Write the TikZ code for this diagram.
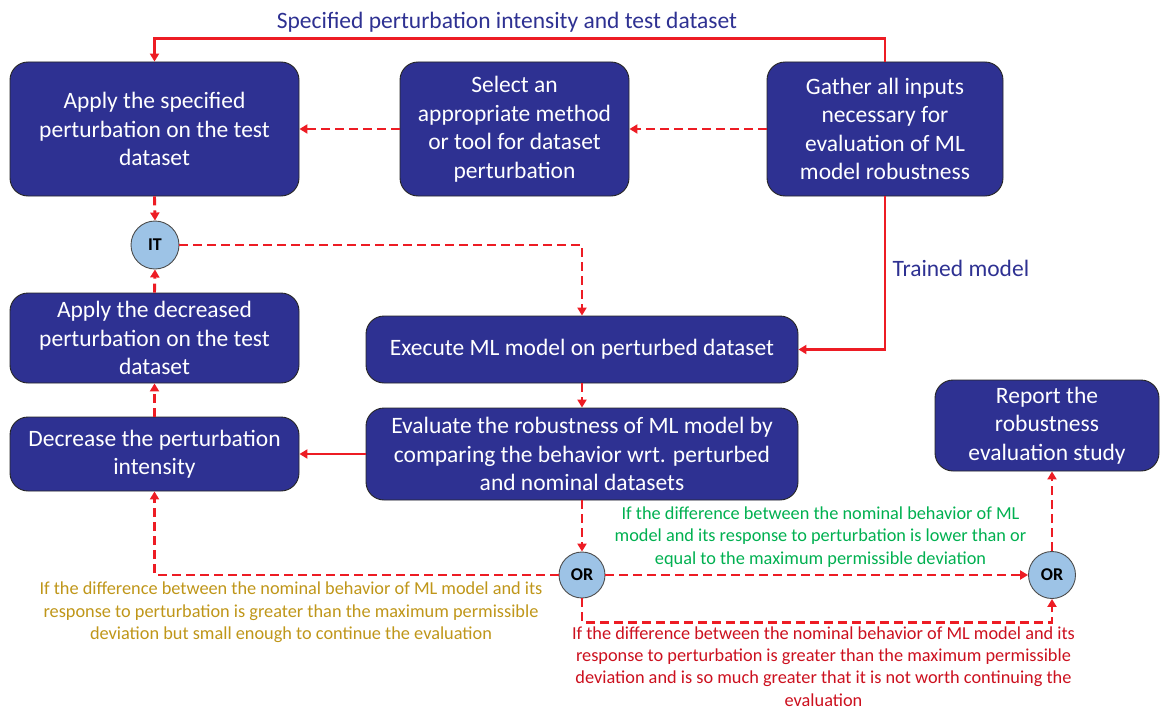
\documentclass[tikz,border=0pt]{standalone}
\usepackage{fontspec}
\setmainfont{Carlito}
\usetikzlibrary{arrows.meta}
\definecolor{boxblue}{RGB}{46,49,146}
\definecolor{circblue}{RGB}{157,195,230}
\definecolor{linered}{RGB}{237,28,36}
\definecolor{okgreen}{RGB}{0,176,80}
\definecolor{gold}{RGB}{191,150,25}
\definecolor{badred}{RGB}{204,16,30}
\tikzset{
  stepbox/.style={draw=black!85, line width=0.9pt, fill=boxblue, rounded corners=18pt,
    text=white, align=center, inner sep=2pt,
    font=\fontsize{23.5}{28.5}\selectfont},
  gate/.style={circle, draw=black!70, line width=0.9pt, fill=circblue, inner sep=0pt,
    font=\fontsize{18}{20}\selectfont\bfseries},
  solidarr/.style={draw=linered, line width=2.9pt, -{Triangle[length=8pt,width=9pt]}},
  dasharr/.style={solidarr, dash pattern=on 9pt off 5pt},
  note/.style={align=center, font=\fontsize{18.3}{22.3}\selectfont},
  flowlabel/.style={text=boxblue, font=\fontsize{23.5}{28}\selectfont}
}
\begin{document}
\begin{tikzpicture}[x=1pt,y=-1pt]
\useasboundingbox (0,0) rectangle (1161,709);

% process steps
\node[stepbox, minimum width=289pt, minimum height=134pt] (apply) at (154.5,129)
  {Apply the specified\\perturbation on the test\\dataset};
\node[stepbox, minimum width=229pt, minimum height=134pt] (select) at (514.5,129)
  {Select an\\appropriate method\\or tool for dataset\\perturbation};
\node[stepbox, minimum width=236pt, minimum height=134pt] (gather) at (885,129)
  {Gather all inputs\\necessary for\\evaluation of ML\\model robustness};
\node[stepbox, minimum width=289pt, minimum height=90pt] (applydec) at (154.5,338)
  {Apply the decreased\\perturbation on the test\\dataset};
\node[stepbox, minimum width=289pt, minimum height=74pt] (decrease) at (154.5,454)
  {Decrease the perturbation\\intensity};
\node[stepbox, minimum width=432pt, minimum height=67pt] (execute) at (582,349.5)
  {Execute ML model on perturbed dataset};
\node[stepbox, minimum width=432pt, minimum height=92pt] (evaluate) at (582,454)
  {Evaluate the robustness of ML model by\\comparing the behavior wrt. perturbed\\and nominal datasets};
\node[stepbox, minimum width=224pt, minimum height=91pt] (report) at (1047,425.5)
  {Report the\\robustness\\evaluation study};

% junctions
\node[gate, minimum size=48pt] (it) at (155,245) {IT};
\node[gate, minimum size=46pt] (or1) at (582,575) {OR};
\node[gate, minimum size=47pt] (or2) at (1052,575) {OR};

% connectors
\draw[solidarr] (gather.north) -- ++(0,-23) -| (apply.north);
\draw[dasharr] (gather.west) -- (select.east);
\draw[dasharr] (select.west) -- (apply.east);
\draw[dasharr] (apply.south) -- (it.north);
\draw[dasharr] (it.east) -| (execute.north);
\draw[solidarr] (gather.south) |- (execute.east);
\draw[dasharr] (execute.south) -- (evaluate.north);
\draw[solidarr] (evaluate.west) -- (decrease.east);
\draw[dasharr] (decrease.north) -- (applydec.south);
\draw[dasharr] (applydec.north) -- (it.south);
\draw[dasharr] (evaluate.south) -- (or1.north);
\draw[dasharr] (or1.west) -| (decrease.south);
\draw[dasharr] (or1.east) -- (or2.west);
\draw[dasharr] (or1.south) -- ++(0,24) -| (or2.south);
\draw[dasharr] (or2.north) -- (or2.north |- report.south);

% labels
\node[flowlabel] (inputlbl) at (507,22) {Specified perturbation intensity and test dataset};
\node[flowlabel, anchor=west] (modellbl) at (889,268) {Trained model};
\node[note, text=okgreen] (oklbl) at (820.5,537)
  {If the difference between the nominal behavior of ML\\model and its response to perturbation is lower than or\\equal to the maximum permissible deviation};
\node[note, text=gold] (retrylbl) at (291,612.5)
  {If the difference between the nominal behavior of ML model and its\\response to perturbation is greater than the maximum permissible\\deviation but small enough to continue the evaluation};
\node[note, text=badred] (stoplbl) at (823.5,666.5)
  {If the difference between the nominal behavior of ML model and its\\response to perturbation is greater than the maximum permissible\\deviation and is so much greater that it is not worth continuing the\\evaluation};
\end{tikzpicture}
\end{document}
